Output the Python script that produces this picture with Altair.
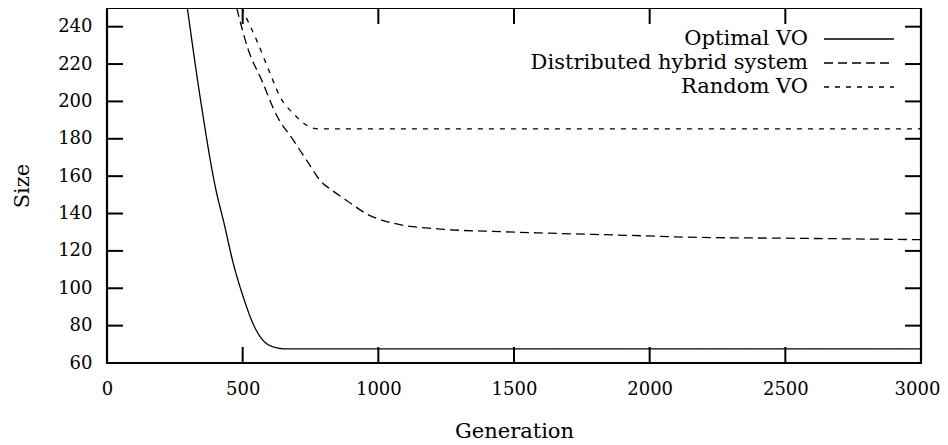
import altair as alt
import pandas as pd

# ---------------- data ----------------
series_names = ["Optimal VO", "Distributed hybrid system", "Random VO"]

opt_gen = [296, 345, 402, 429, 466, 503, 539, 582, 625, 650, 3000]
opt_size = [250, 200.6, 152.3, 136.2, 113, 95, 80.8, 71.1, 68.2, 67.6, 67.6]

hyb_gen = [478, 521, 570, 625, 687, 736, 797, 822, 883, 969, 1000, 1068, 1227,
           1449, 1596, 1879, 2186, 2500, 3000]
hyb_size = [250, 227.5, 211.4, 192.6, 179.2, 168.4, 155.9, 153.2, 147, 138.9,
            137.1, 134.4, 131.7, 130.3, 129.6, 128.5, 127.2, 126.8, 126]

rnd_gen = [496, 551, 601, 638, 687, 748, 780, 3000]
rnd_size = [250, 232.9, 215, 202.4, 193.5, 186.3, 185.3, 185.3]

x_ticks = [0, 500, 1000, 1500, 2000, 2500, 3000]
y_ticks = [60, 80, 100, 120, 140, 160, 180, 200, 220, 240]

# ---------------- build ----------------
rows = []
for name, gs, ss in [(series_names[0], opt_gen, opt_size),
                     (series_names[1], hyb_gen, hyb_size),
                     (series_names[2], rnd_gen, rnd_size)]:
    for g, s in zip(gs, ss):
        rows.append({"series": name, "gen": g, "size": s})
df = pd.DataFrame(rows)
xdf = pd.DataFrame({"v": x_ticks})
ydf = pd.DataFrame({"v": y_ticks})

W, H = 814, 355
FONT = "DejaVu Serif"
dashes = [[1, 0], [9, 5], [5, 6]]

xs = alt.Scale(domain=[0, 3000], nice=False, zero=False)
ys = alt.Scale(domain=[60, 250], nice=False, zero=False)

x_axis = alt.Axis(title="Generation", values=x_ticks, format="d", grid=False,
                  domain=False, ticks=False, labelPadding=17, labelFontSize=18,
                  labelFlush=False, labelOverlap=False,
                  labelOffset={"condition": {"test": "datum.value == 3000",
                                             "value": -4}, "value": 0},
                  titleFontSize=21, titleFontWeight="normal", titleX=W / 2,
                  titleY=74, titleBaseline="alphabetic", titleAlign="center",
                  labelColor="black", titleColor="black", labelFont=FONT,
                  titleFont=FONT)
y_axis = alt.Axis(title="Size", values=y_ticks, format="d", grid=False,
                  domain=False, ticks=False, labelPadding=15, labelFontSize=18,
                  labelFlush=False, labelOverlap=False,
                  titleFontSize=21, titleFontWeight="normal", titleX=-85,
                  titleY=H / 2, titleBaseline="middle", titleAlign="center",
                  titleAngle=270, labelColor="black", titleColor="black",
                  labelFont=FONT, titleFont=FONT)

lines = alt.Chart(df).mark_line(clip=True, strokeWidth=1.3, color="black",
                                interpolate="monotone").encode(
    x=alt.X("gen:Q", scale=xs, axis=x_axis),
    y=alt.Y("size:Q", scale=ys, axis=y_axis),
    strokeDash=alt.StrokeDash("series:N",
                              scale=alt.Scale(domain=series_names, range=dashes),
                              legend=None),
)

tick_left = alt.Chart(ydf).mark_rule(strokeWidth=2, color="black").encode(
    y=alt.Y("v:Q", scale=ys, axis=y_axis), x=alt.value(0), x2=alt.value(16))
tick_right = alt.Chart(ydf).mark_rule(strokeWidth=2, color="black").encode(
    y=alt.Y("v:Q", scale=ys, axis=y_axis), x=alt.value(W - 16), x2=alt.value(W))
tick_bottom = alt.Chart(xdf).mark_rule(strokeWidth=2, color="black").encode(
    x=alt.X("v:Q", scale=xs, axis=x_axis), y=alt.value(H), y2=alt.value(H - 16))
tick_top = alt.Chart(xdf).mark_rule(strokeWidth=2, color="black").encode(
    x=alt.X("v:Q", scale=xs, axis=x_axis), y=alt.value(0), y2=alt.value(16))

border = alt.Chart(pd.DataFrame({"b": [0]})).mark_rect(
    fill=None, fillOpacity=0, stroke="black", strokeWidth=2.2).encode(
    x=alt.value(0), x2=alt.value(W), y=alt.value(0), y2=alt.value(H))

legend_layers = []
for i, name in enumerate(series_names):
    ldf = pd.DataFrame({"name": [name]})
    ty = 31 + 24 * i
    legend_layers.append(
        alt.Chart(ldf).mark_text(align="right", baseline="middle", fontSize=21,
                                 font=FONT, color="black").encode(
            text="name:N", x=alt.value(701), y=alt.value(ty)))
    legend_layers.append(
        alt.Chart(ldf).mark_rule(strokeWidth=1.3, color="black",
                                 strokeDash=dashes[i]).encode(
            x=alt.value(717), x2=alt.value(787), y=alt.value(ty)))

chart = alt.layer(lines, tick_left, tick_right, tick_bottom, tick_top, border,
                  *legend_layers).properties(
    width=W, height=H,
    padding={"left": 99, "top": 0, "right": 19, "bottom": 80},
    autosize=alt.AutoSizeParams(type="none"),
).configure(
    font=FONT,
    view=alt.ViewConfig(stroke=None),
)

chart.save("out.html", embed_options={"renderer": "svg", "actions": False})
